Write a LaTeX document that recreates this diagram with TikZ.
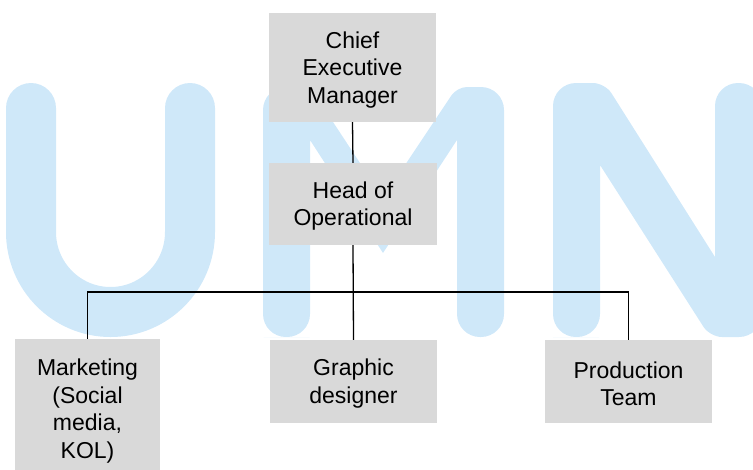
\documentclass[tikz,border=0pt]{standalone}
\usepackage{fontspec}
\setmainfont{Liberation Sans}
\begin{document}
\begin{tikzpicture}[x=1pt,y=-1pt,
  orgbox/.style={fill=boxgray,draw=none,align=center,inner sep=0pt,
    font=\fontsize{23}{27.6}\selectfont,text=black},
  link/.style={draw=black,line width=1.3pt}]
\definecolor{boxgray}{RGB}{217,217,217}
\definecolor{wmblue}{RGB}{207,232,249}
\useasboundingbox (0,0) rectangle (753,469);
\begin{scope}
\clip (0,0) rectangle (753,469);
% watermark U
\draw[wmblue,line width=50pt,line cap=round] (31,108) -- (31,232) arc[start angle=180,end angle=0,x radius=79.5,y radius=80] -- (190,108);
% watermark M
\fill[wmblue] (286.5,337) [rounded corners=23pt] -- (263,337) -- (263,87) [rounded corners=10pt] -- (310,87) [sharp corners] -- (383,198) [rounded corners=10pt] -- (457,87) [rounded corners=23pt] -- (504,87) -- (504,337) -- (457,337) [sharp corners] -- (457,140) -- (383,253) -- (310,140) [rounded corners=23pt] -- (310,337) -- cycle;
% watermark N
\fill[wmblue] (576,337) [rounded corners=23pt] -- (553,337) -- (553,83) [rounded corners=12pt] -- (605,83) [sharp corners] -- (715,257) [rounded corners=23pt] -- (715,83) -- (762,83) -- (762,337) [rounded corners=12pt] -- (710,337) [sharp corners] -- (600,165) [rounded corners=23pt] -- (600,337) -- cycle;
\end{scope}
% boxes
\node[orgbox,minimum width=167pt,minimum height=109pt] (ceo) at (352.5,67.5) {\rule{0pt}{21pt}Chief\\Executive\\Manager};
\node[orgbox,minimum width=168pt,minimum height=82pt] (head) at (353,204) {\rule{0pt}{21pt}Head of\\Operational};
\begin{scope}
\clip (0,0) rectangle (753,469);
\node[orgbox,minimum width=145pt,minimum height=140pt] (mkt) at (87.5,409) {\rule{0pt}{21pt}Marketing\\(Social\\media,\\KOL)};
\end{scope}
\node[orgbox,minimum width=167pt,minimum height=83pt] (graph) at (353.5,381.5) {\rule{0pt}{21pt}Graphic\\designer};
\node[orgbox,minimum width=167pt,minimum height=83pt] (prod) at (628.5,381.5) {\rule{0pt}{21pt}Production\\Team};
% connectors
\coordinate (bus) at (353,292);
\draw[link] (ceo.south) -- (head.north);
\draw[link] (head.south) -- (graph.north);
\draw[link] (mkt.north) |- (bus) -| (prod.north);
\end{tikzpicture}
\end{document}
